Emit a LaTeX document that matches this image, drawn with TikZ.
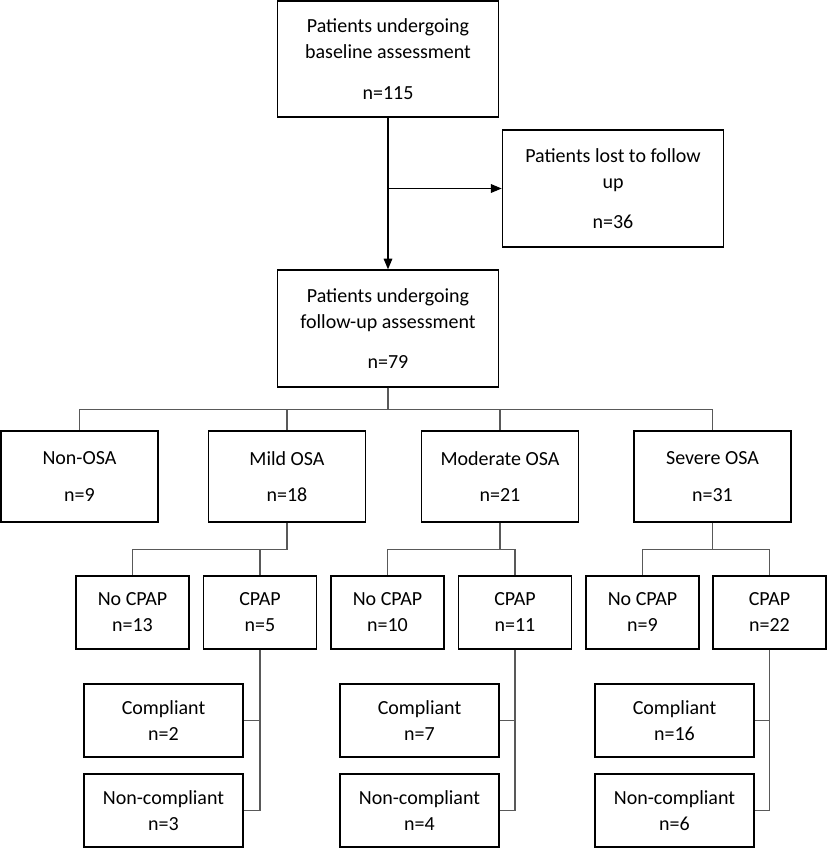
\documentclass[tikz,border=0pt]{standalone}
\usepackage{fontspec}
\setmainfont{Carlito}
\usepackage{tikz}
\usetikzlibrary{arrows.meta,positioning}
\definecolor{flowInk}{HTML}{000000}
\definecolor{flowLine}{HTML}{595959}

\begin{document}
\begin{tikzpicture}[
  x=0.75pt, y=-0.75pt,
  font=\fontsize{15}{19.5}\selectfont,
  bigbox/.style={draw=flowInk, line width=1.3pt, minimum width=165.75pt, minimum height=87.5pt, align=center, inner sep=0pt},
  levelbox/.style={draw=flowInk, line width=1.3pt, minimum width=117.75pt, minimum height=68.25pt, align=center, inner sep=0pt},
  cpapbox/.style={draw=flowInk, line width=1.3pt, minimum width=84.75pt, minimum height=54.75pt, align=center, inner sep=0pt},
  compbox/.style={draw=flowInk, line width=1.3pt, minimum width=119.25pt, minimum height=54.75pt, align=center, inner sep=0pt},
  link/.style={draw=flowLine, line width=0.8pt},
  trunk/.style={draw=flowInk, line width=1.3pt},
  flow/.style={draw=flowInk, line width=0.8pt, -{Triangle[length=8pt,width=6.5pt]}}
]
  \useasboundingbox (0,0) rectangle (827,848);

  \node[bigbox] (base) at (388,59) {Patients undergoing\\baseline assessment\\[11pt]n=115};
  \node[bigbox] (lost) at (613,188.5) {Patients lost to follow\\up\\[11pt]n=36};
  \node[bigbox] (follow) at (388,328.5) {Patients undergoing\\follow-up assessment\\[11pt]n=79};

  \node[levelbox] (nonosa) at (79.5,476.5) {Non-OSA\\[8pt]n=9};
  \node[levelbox] (mild) at (287,476.5) {Mild OSA\\[8pt]n=18};
  \node[levelbox] (moderate) at (500,476.5) {Moderate OSA\\[8pt]n=21};
  \node[levelbox] (severe) at (712.5,476.5) {Severe OSA\\[8pt]n=31};

  \node[cpapbox] (nocpap-mild) at (132.5,612.5) {No CPAP\\n=13};
  \node[cpapbox] (cpap-mild) at (260,612.5) {CPAP\\n=5};
  \node[cpapbox] (nocpap-moderate) at (387.5,612.5) {No CPAP\\n=10};
  \node[cpapbox] (cpap-moderate) at (515,612.5) {CPAP\\n=11};
  \node[cpapbox] (nocpap-severe) at (642.5,612.5) {No CPAP\\n=9};
  \node[cpapbox] (cpap-severe) at (769.5,612.5) {CPAP\\n=22};

  \node[compbox] (comp-mild) at (163.5,720.5) {Compliant\\n=2};
  \node[compbox] (noncomp-mild) at (163.5,810.5) {Non-compliant\\n=3};
  \node[compbox] (comp-moderate) at (419.5,720.5) {Compliant\\n=7};
  \node[compbox] (noncomp-moderate) at (419.5,810.5) {Non-compliant\\n=4};
  \node[compbox] (comp-severe) at (674.5,720.5) {Compliant\\n=16};
  \node[compbox] (noncomp-severe) at (674.5,810.5) {Non-compliant\\n=6};

  % follow-up and drop-out
  \coordinate (split) at (base.south |- lost.west);
  \draw[trunk] (base.south) -- (split);
  \draw[flow] (split) -- (follow.north);
  \draw[flow] (split) -- (lost.west);

  % severity groups
  \foreach \grp in {nonosa,mild,moderate,severe} {
    \draw[link] (follow.south) -- ++(0,22) -| (\grp.north);
  }

  % treatment and compliance
  \foreach \grp in {mild,moderate,severe} {
    \draw[link] (\grp.south) -- ++(0,27) -| (nocpap-\grp.north);
    \draw[link] (\grp.south) -- ++(0,27) -| (cpap-\grp.north);
    \draw[link] (cpap-\grp.south) |- (comp-\grp.east);
    \draw[link] (cpap-\grp.south) |- (noncomp-\grp.east);
  }
\end{tikzpicture}
\end{document}
